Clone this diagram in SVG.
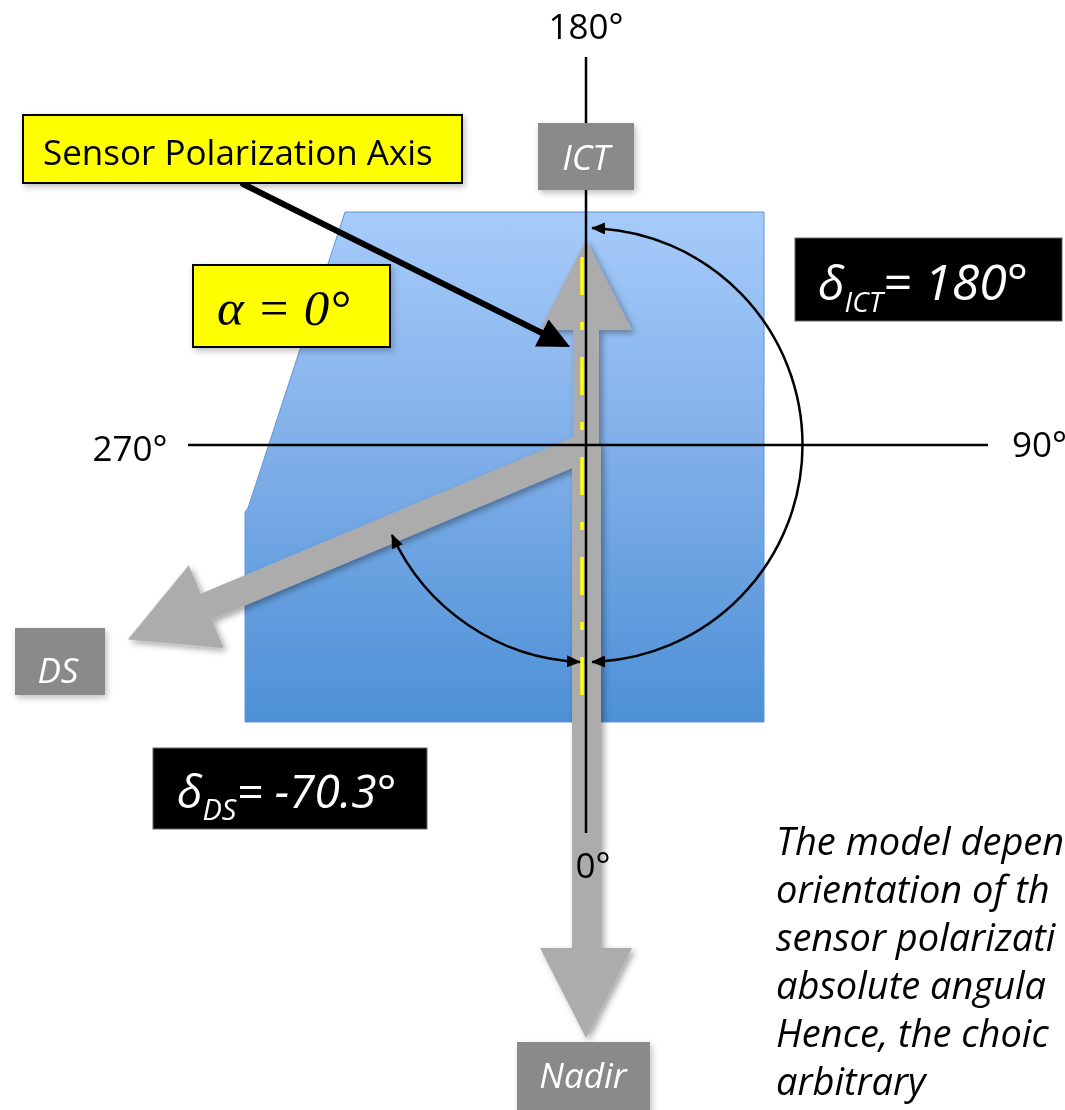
<svg xmlns="http://www.w3.org/2000/svg" width="1065" height="1110" viewBox="0 0 1065 1110">
  <defs>
    <linearGradient id="blueGrad" x1="0" y1="0" x2="0" y2="1">
      <stop offset="0" stop-color="#a6cbfa"/>
      <stop offset="0.5" stop-color="#7dade8"/>
      <stop offset="1" stop-color="#4d90d6"/>
    </linearGradient>
    <filter id="shadow" x="-20%" y="-20%" width="140%" height="140%">
      <feDropShadow dx="3" dy="3" stdDeviation="3" flood-color="#000" flood-opacity="0.35"/>
    </filter>
    <filter id="softShadow" x="-20%" y="-20%" width="140%" height="140%">
      <feDropShadow dx="2" dy="3" stdDeviation="3" flood-color="#000" flood-opacity="0.25"/>
    </filter>
    <marker id="arcHead" viewBox="0 0 14 12" refX="13" refY="6" markerWidth="14" markerHeight="12" markerUnits="userSpaceOnUse" orient="auto-start-reverse">
      <path d="M0,0 L14,6 L0,12 Z" fill="#000"/>
    </marker>
    <style>
      .axis { stroke: #000; stroke-width: 2.5; fill: none; }
      .arc { stroke: #000; stroke-width: 2.5; fill: none; marker-start: url(#arcHead); marker-end: url(#arcHead); }
      .deg { font-family: "Open Sans", "Liberation Sans", sans-serif; font-size: 35px; fill: #000; }
      .graybox { fill: #8a8a8a; }
      .graylabel { font-family: "Open Sans", "Liberation Sans", sans-serif; font-style: italic; font-size: 35px; fill: #fff; text-anchor: middle; }
      .yellowbox { fill: #ffff00; stroke: #000; stroke-width: 2; }
      .blackbox { fill: #000; stroke: #666; stroke-width: 1; }
      .delta { font-family: "Open Sans", "Liberation Sans", sans-serif; font-style: italic; fill: #fff; }
      .para { font-family: "Open Sans", "Liberation Sans", sans-serif; font-style: italic; font-size: 38px; fill: #000; }
    </style>
  </defs>

  <rect x="0" y="0" width="1065" height="1110" fill="#fff"/>

  <!-- blue plate -->
  <g id="plate">
    <polygon points="345,212 764,212 764,722 245,722 245,512 248,508" fill="url(#blueGrad)" stroke="#5e95d6" stroke-width="1"/>
  </g>

  <!-- gray arrows -->
  <g id="gray-arrows" fill="#acacac" filter="url(#shadow)">
    <polygon id="arrow-ict" points="586,240 632,330 599,330 599,445 573,445 573,330 540,330"/>
    <polygon id="arrow-nadir" points="572,445 601,445 601,948 632,948 586,1038 540,948 572,948"/>
    <polygon id="arrow-ds" transform="translate(586,447) rotate(157.2)" points="0,-14 412,-14 412,-45 497,0 412,45 412,14 0,14"/>
  </g>

  <!-- sensor polarization axis (yellow dashed) -->
  <g id="polarization-axis">
    <line x1="582" y1="257" x2="582" y2="700" stroke="#ffff00" stroke-width="3.5" stroke-dasharray="38 27 8 27"/>
  </g>

  <!-- axes -->
  <g id="axes">
    <line class="axis" x1="586" y1="57" x2="586" y2="123"/>
    <line class="axis" x1="586" y1="190" x2="586" y2="833"/>
    <line class="axis" x1="188" y1="445" x2="988" y2="445"/>
  </g>

  <!-- connectors -->
  <g id="connectors">
    <path id="arc-ict" class="arc" d="M592.1,228.1 A217,217 0 0 1 592.1,661.9"/>
    <path id="arc-ds" class="arc" d="M392,535 A217,217 0 0 0 579.9,661.9"/>
    <g id="pointer" stroke="#000" stroke-width="6" stroke-linecap="round" stroke-linejoin="miter" fill="#000">
      <line x1="243" y1="184" x2="560" y2="342"/>
      <polygon points="538.2,344.6 566,345 549,323.2" stroke-width="4"/>
    </g>
  </g>

  <!-- degree labels -->
  <g id="label-180"><text class="deg" x="586" y="39" text-anchor="middle">180°</text></g>
  <g id="label-270"><text class="deg" x="130" y="461" text-anchor="middle">270°</text></g>
  <g id="label-90"><text class="deg" x="1012" y="457">90°</text></g>
  <g id="label-0"><text class="deg" x="593" y="878" text-anchor="middle">0°</text></g>

  <!-- gray boxes -->
  <g id="node-ict" filter="url(#softShadow)">
    <rect class="graybox" x="538" y="123" width="96" height="67"/>
    <text class="graylabel" x="586" y="170">ICT</text>
  </g>
  <g id="node-ds" filter="url(#softShadow)">
    <rect class="graybox" x="15" y="628" width="90" height="67"/>
    <text class="graylabel" x="58" y="683">DS</text>
  </g>
  <g id="node-nadir" filter="url(#softShadow)">
    <rect class="graybox" x="517" y="1042" width="133" height="72"/>
    <text class="graylabel" x="583" y="1088">Nadir</text>
  </g>

  <!-- yellow boxes -->
  <g id="node-sensor-axis" filter="url(#softShadow)">
    <rect class="yellowbox" x="23" y="115" width="439" height="68"/>
    <text x="43" y="165" font-family="'Open Sans', 'Liberation Sans', sans-serif" font-size="35" fill="#000">Sensor Polarization Axis</text>
  </g>
  <g id="node-alpha" filter="url(#softShadow)">
    <rect class="yellowbox" x="193" y="265" width="197" height="82"/>
    <text x="217" y="325" font-family="'Liberation Serif', 'DejaVu Serif', serif" font-style="italic" font-size="51" fill="#000">α = 0°</text>
  </g>

  <!-- black boxes -->
  <g id="node-delta-ict">
    <rect class="blackbox" x="795" y="238" width="267" height="83"/>
    <text class="delta" x="818" y="300" font-size="48">δ<tspan font-size="28" dy="12">ICT</tspan><tspan dy="-12" font-size="50">= 180°</tspan></text>
  </g>
  <g id="node-delta-ds">
    <rect class="blackbox" x="153" y="748" width="274" height="81"/>
    <text class="delta" x="177" y="808" font-size="46">δ<tspan font-size="29" dy="12">DS</tspan><tspan dy="-12">= -70.3°</tspan></text>
  </g>

  <!-- paragraph -->
  <g id="note">
    <text class="para" x="776" y="855">The model depen</text>
    <text class="para" x="776" y="903">orientation of th</text>
    <text class="para" x="776" y="951">sensor polarizati</text>
    <text class="para" x="776" y="999">absolute angula</text>
    <text class="para" x="776" y="1047">Hence, the choic</text>
    <text class="para" x="776" y="1095">arbitrary</text>
  </g>
</svg>
